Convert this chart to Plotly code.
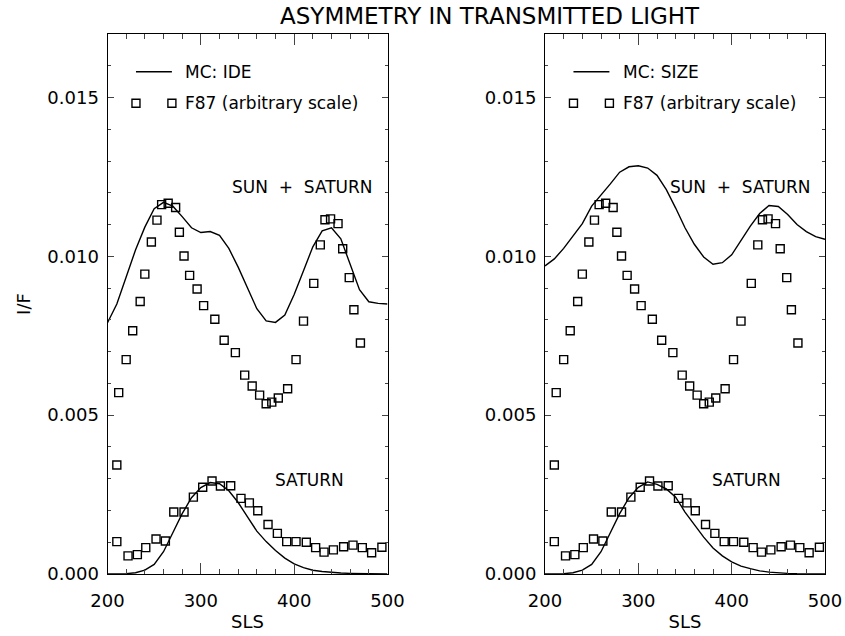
import plotly.graph_objects as go

# Model grid (SLS longitude, every 10 deg)
sls_model = list(range(200, 501, 10))

# MC: IDE model, left panel
ide_total = [0.00791, 0.00850, 0.00935, 0.01020, 0.01092, 0.01150, 0.01170, 0.01158,
             0.01125, 0.01090, 0.01075, 0.01078, 0.01066, 0.01025, 0.00966, 0.00898,
             0.00835, 0.00797, 0.00792, 0.00815, 0.00880, 0.00955, 0.01030, 0.01080,
             0.01090, 0.01055, 0.00975, 0.00895, 0.00857, 0.00852, 0.00850]
ide_saturn = [0.0, 0.0, 0.00001, 0.00004, 0.00012, 0.00030, 0.00070, 0.00130,
              0.00190, 0.00240, 0.00272, 0.00288, 0.00284, 0.00262, 0.00225, 0.00180,
              0.00135, 0.00102, 0.00074, 0.00050, 0.00032, 0.00020, 0.00012, 0.00008,
              0.00005, 0.00003, 0.00002, 0.00001, 0.00001, 0.0, 0.0]

# MC: SIZE model, right panel
size_total = [0.00970, 0.00992, 0.01025, 0.01063, 0.01103, 0.01158, 0.01192, 0.01228,
              0.01265, 0.01282, 0.01285, 0.01278, 0.01255, 0.01210, 0.01152, 0.01090,
              0.01038, 0.00998, 0.00975, 0.00980, 0.01005, 0.01050, 0.01095, 0.01135,
              0.01160, 0.01157, 0.01132, 0.01100, 0.01078, 0.01062, 0.01054]
size_saturn = [0.0, 0.0, 0.00001, 0.00004, 0.00012, 0.00030, 0.00070, 0.00130,
               0.00190, 0.00240, 0.00273, 0.00290, 0.00282, 0.00268, 0.00242, 0.00195,
               0.00157, 0.00116, 0.00082, 0.00057, 0.00038, 0.00025, 0.00017, 0.00010,
               0.00006, 0.00003, 0.00002, 0.00001, 0.0, 0.0, 0.0]

# F87 observations (arbitrary scale), sun + saturn
f87_total_sls = [210, 212, 220, 227, 235, 240, 247, 253, 258, 265, 273, 277, 282, 288,
                 296, 303, 315, 325, 337, 347, 355, 363, 370, 376, 383, 393, 402, 410,
                 421, 428, 433, 439, 447, 452, 459, 464, 471]
f87_total = [0.00343, 0.00571, 0.00675, 0.00766, 0.00858, 0.00944, 0.01045, 0.01114,
             0.01163, 0.01167, 0.01154, 0.01076, 0.01001, 0.00940, 0.00897, 0.00845,
             0.00802, 0.00736, 0.00697, 0.00626, 0.00592, 0.00563, 0.00536, 0.00541,
             0.00554, 0.00583, 0.00675, 0.00796, 0.00915, 0.01036, 0.01115, 0.01118,
             0.01103, 0.01024, 0.00933, 0.00832, 0.00727]

# F87 observations, saturn only
f87_saturn_sls = [210, 222, 232, 241, 252, 262, 271, 282, 292, 302, 312, 321, 332, 343,
                  352, 361, 372, 382, 392, 402, 413, 423, 432, 442, 453, 463, 473, 483, 494]
f87_saturn = [0.00102, 0.00057, 0.00061, 0.00083, 0.00110, 0.00104, 0.00195, 0.00195,
              0.00242, 0.00273, 0.00293, 0.00277, 0.00278, 0.00238, 0.00224, 0.00199,
              0.00156, 0.00128, 0.00102, 0.00102, 0.00100, 0.00083, 0.00069, 0.00076,
              0.00086, 0.00091, 0.00083, 0.00067, 0.00084]

panel_names = ["MC: IDE", "MC: SIZE"]

FONT = "DejaVu Sans"
W, H = 845, 636

fig = go.Figure()

panels = [("x", "y", ide_total, ide_saturn), ("x2", "y2", size_total, size_saturn)]
for xa, ya, tot, sat in panels:
    for ys in (tot, sat):
        fig.add_trace(go.Scatter(x=sls_model, y=ys, mode="lines", xaxis=xa, yaxis=ya,
                                 line=dict(color="black", width=1.4), showlegend=False))
    for xs, ys in ((f87_total_sls, f87_total), (f87_saturn_sls, f87_saturn)):
        fig.add_trace(go.Scatter(x=xs, y=ys, mode="markers", xaxis=xa, yaxis=ya,
                                 marker=dict(symbol="square-open", size=8, color="black",
                                             line=dict(width=1.4, color="black")),
                                 showlegend=False))

ydom = [1 - 574 / H, 1 - 34 / H]
xdoms = [[107.5 / W, 387.5 / W], [545 / W, 825 / W]]
tfont = dict(family=FONT, size=18, color="black")


def xaxis_cfg(dom, anchor, title):
    return dict(domain=dom, range=[200, 500], anchor=anchor,
                ticks="inside", ticklen=11, dtick=100, tick0=200,
                minor=dict(dtick=20, ticks="inside", ticklen=5),
                showline=True, linecolor="black", mirror="allticks",
                showgrid=False, automargin=False, ticklabelstandoff=10, tickfont=tfont,
                title=dict(text=title, font=tfont, standoff=5))


def yaxis_cfg(anchor):
    return dict(domain=ydom, range=[0, 0.017], anchor=anchor,
                ticks="inside", ticklen=6, dtick=0.005, tickformat=".3f",
                minor=dict(dtick=0.001, ticks="inside", ticklen=3),
                showline=True, linecolor="black", mirror="allticks",
                showgrid=False, automargin=False, ticklabelstandoff=4, tickfont=tfont)


fig.update_layout(
    width=W, height=H, margin=dict(l=0, r=0, t=0, b=0),
    paper_bgcolor="white", plot_bgcolor="white", showlegend=False,
    xaxis=xaxis_cfg(xdoms[0], "y", "SLS"),
    xaxis2=xaxis_cfg(xdoms[1], "y2", "SLS"),
    yaxis=yaxis_cfg("x"),
    yaxis2=yaxis_cfg("x2"),
)
fig.layout.yaxis.title = dict(text="I/F", font=tfont, standoff=12)

# Legend glyphs and labels inside each panel
for i, (xa, ya) in enumerate((("x", "y"), ("x2", "y2"))):
    fig.add_shape(type="line", xref=xa, yref=ya, x0=230.5, x1=269, y0=0.01581, y1=0.01581,
                  line=dict(color="black", width=1.4))
    for xc in (230.5, 269):
        fig.add_shape(type="rect", xref=xa, yref=ya, xsizemode="pixel", ysizemode="pixel",
                      xanchor=xc, yanchor=0.01482, x0=-4, x1=4, y0=-4, y1=4,
                      line=dict(color="black", width=1.4))
    fig.add_annotation(xref=xa, yref=ya, x=281, y=0.01581, text=panel_names[i],
                       showarrow=False, xanchor="left", yanchor="middle",
                       font=dict(family=FONT, size=17, color="black"))
    fig.add_annotation(xref=xa, yref=ya, x=281, y=0.01482, text="F87 (arbitrary scale)",
                       showarrow=False, xanchor="left", yanchor="middle",
                       font=dict(family=FONT, size=17, color="black"))
    fig.add_annotation(xref=xa, yref=ya, x=487, y=0.01217, text="SUN  +  SATURN",
                       showarrow=False, xanchor="right", yanchor="middle",
                       font=dict(family=FONT, size=17, color="black"))
    fig.add_annotation(xref=xa, yref=ya, x=416, y=0.00296, text="SATURN",
                       showarrow=False, xanchor="center", yanchor="middle",
                       font=dict(family=FONT, size=17, color="black"))

fig.add_annotation(xref="paper", yref="paper", x=490 / W, y=1 - 16 / H,
                   text="ASYMMETRY IN TRANSMITTED LIGHT", showarrow=False,
                   xanchor="center", yanchor="middle",
                   font=dict(family=FONT, size=23, color="black"))

fig.write_html("out.html")
